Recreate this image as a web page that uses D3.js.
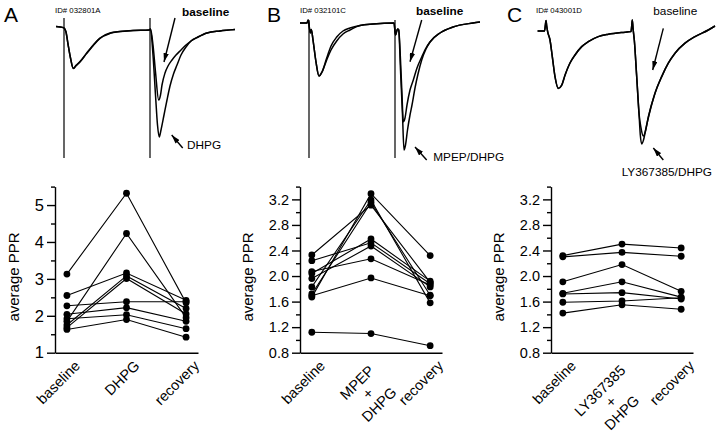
<!DOCTYPE html>
<html><head><meta charset="utf-8">
<script src="https://cdn.jsdelivr.net/npm/d3@7"></script>
<style>
body{margin:0;background:#fff}
svg{display:block}
text{font-family:"Liberation Sans",Arial,Helvetica,sans-serif;fill:#000}
</style>
</head><body>
<svg id="chart" width="720" height="433"></svg>
<script>
// ---------------- data ----------------
const panelLetters = ["A", "B", "C"];
const recordingIds = ["ID# 032801A", "ID# 032101C", "ID# 043001D"];

const categoriesA = [["baseline"], ["DHPG"], ["recovery"]];
const categoriesB = [["baseline"], ["MPEP", "+", "DHPG"], ["recovery"]];
const categoriesC = [["baseline"], ["LY367385", "+", "DHPG"], ["recovery"]];

// average PPR per cell: [baseline, drug, recovery]
const pprA = [
  [3.13, 5.32, 2.35], [2.55, 3.16, 2.42], [2.27, 2.38, 2.38],
  [2.04, 2.22, 1.85], [1.92, 2.03, 1.65], [1.63, 1.90, 1.42],
  [1.85, 4.23, 1.95], [1.75, 3.08, 2.20], [1.68, 3.01, 2.05]
];
const pprB = [
  [1.12, 1.10, 0.91], [1.69, 1.97, 1.69], [2.07, 2.27, 1.86],
  [2.33, 3.11, 1.90], [2.24, 2.52, 1.88], [2.04, 2.58, 1.92],
  [1.96, 2.47, 1.83], [1.83, 3.19, 1.58], [1.72, 3.15, 1.70],
  [1.67, 3.29, 2.32]
];
const pprC = [
  [2.32, 2.50, 2.44], [2.30, 2.37, 2.31], [1.91, 2.18, 1.76],
  [1.73, 1.91, 1.67], [1.72, 1.74, 1.64], [1.59, 1.61, 1.66],
  [1.42, 1.55, 1.48]
];

const yDomainA = [1, 5.5];
const yTicksA = [1, 2, 3, 4, 5];
const yMinorA = [1.5, 2.5, 3.5, 4.5, 5.5];
const yDomainBC = [0.8, 3.4];
const yTicksBC = [0.8, 1.2, 1.6, 2.0, 2.4, 2.8, 3.2];
const yMinorBC = [1.0, 1.4, 1.8, 2.2, 2.6, 3.0, 3.4];
const yAxisTitle = "average PPR";

// example sweeps: [time (ms), current (pA)]
const sweepA_baseline = [[-4,8],[-0.3,2],[0.3,-3],[1,-20],[2,-80],[3.25,-150],[4.65,-201],[6,-187],[8,-168],[11.35,-125],[14.65,-85],[18,-50],[23,-25],[28,-18],[34.5,-13],[42.75,-10],
  [43.25,-5],[44.5,-85],[45.75,-220],[47.35,-360],[48.25,-335],[49,-285],[50.5,-225],[52,-190],[54,-160],[56,-135],[58.5,-110],[61,-85],[63.5,-65],[67,-45],[71.5,-25],[78,-15],[85.5,-8]];
const sweepA_drug = [[-4,8],[-0.3,2],[0.3,-3],[1,-20],[2,-80],[3.25,-150],[4.65,-203],[6,-189],[8,-170],[11.35,-127],[14.65,-87],[18,-52],[23,-27],[28,-18],[34.5,-13],[42.75,-10],
  [43.25,-5],[44.5,-135],[45.75,-335],[46.75,-485],[47.65,-545],[48.5,-510],[50,-435],[51.5,-360],[53,-290],[54.75,-230],[56.5,-185],[58.5,-135],[61,-95],[63.5,-65],[67,-45],[71.5,-25],[78,-15],[85.5,-8]];
const stimA = [0, 43];

const sweepB_baseline = [[-4.5,0],[-1,0],[-0.4,15],[0.65,-50],[1.15,-32],[2,-85],[3.5,-195],[5,-265],[6.5,-245],[8.85,-175],[11,-115],[13.85,-70],[17,-40],[20.5,-25],[25.5,-12],[32,-5],[42.5,0],
  [43.25,-60],[44.25,-30],[44.85,-35],[45.75,-185],[46.5,-360],[47.15,-494],[48,-475],[49,-410],[50.5,-335],[52.15,-285],[54,-225],[56.35,-170],[58.5,-125],[60.5,-95],[65.5,-50],[72,-20],[82,0],[85.5,5]];
const sweepB_drug = [[-4.5,0],[-1,0],[-0.4,15],[0.65,-50],[1.15,-32],[2,-85],[3.5,-195],[5,-265],[6.5,-245],[8.85,-185],[11,-135],[13.85,-90],[17,-55],[20.5,-35],[25.5,-12],[32,-5],[42.5,0],
  [43.25,-60],[44.25,-30],[44.85,-35],[45.75,-235],[46.75,-460],[47.5,-635],[48.25,-610],[49.25,-535],[50.5,-460],[51.5,-410],[53,-325],[54.5,-255],[56.35,-185],[58.5,-130],[60.5,-95],[65.5,-50],[72,-20],[82,0],[85.5,5]];
const stimB = [0, 43];

const sweepC_baseline = [[-4.2,0],[-0.75,0],[-0.25,35],[0,52],[0.35,25],[0.85,-4],[2,-45],[3.15,-128],[4.5,-228],[6.15,-286],[7.85,-270],[9.5,-220],[12,-160],[14.5,-120],[17.85,-78],[21.15,-53],[26.15,-28],[31.15,-16],[37.85,-7],[42.5,-3],
  [42.9,30],[43.15,55],[43.5,15],[44.15,-45],[45.35,-228],[46.5,-411],[47.5,-485],[48.65,-525],[49.75,-500],[51.15,-430],[54.5,-311],[57.85,-228],[61.15,-161],[64.5,-111],[69.5,-61],[74.5,-28],[81.15,5],[84.5,25]];
const sweepC_drug = [[-4.2,0],[-0.75,0],[-0.25,35],[0,52],[0.35,25],[0.85,-4],[2,-45],[3.15,-128],[4.5,-228],[6.15,-288],[7.85,-272],[9.5,-222],[12,-160],[14.5,-120],[17.85,-78],[21.15,-53],[26.15,-28],[31.15,-16],[37.85,-7],[42.5,-3],
  [42.9,30],[43.15,55],[43.5,15],[44.15,-45],[45.35,-228],[46.5,-411],[47.15,-520],[47.85,-565],[48.75,-545],[50,-485],[51.5,-420],[54.5,-311],[57.85,-228],[61.15,-161],[64.5,-111],[69.5,-61],[74.5,-28],[81.15,5],[84.5,25]];
const stimC = [];

// ---------------- layout ----------------
const panels = [
  {letter: panelLetters[0], id: recordingIds[0], cats: categoriesA, ppr: pprA, dom: yDomainA, ticks: yTicksA, minor: yMinorA,
   sweeps: [sweepA_baseline, sweepA_drug], stim: stimA, stimRange: [50, -650],
   axisX: 55, axisEnd: 198, tickFont: 16.5, tx0: 64, ty0: 28, letterX: 4, idX: 55,
   notes: [
     {text: "baseline", bold: true, at: [59, 62], arrow: [[55.5, 50], [50, -170]]},
     {text: "DHPG", bold: false, at: [61.5, -605], arrow: [[59.35, -600], [53.85, -535]]}
   ]},
  {letter: panelLetters[1], id: recordingIds[1], cats: categoriesB, ppr: pprB, dom: yDomainBC, ticks: yTicksBC, minor: yMinorBC,
   sweeps: [sweepB_baseline, sweepB_drug], stim: stimB, stimRange: [15, -675],
   axisX: 300, axisEnd: 442, tickFont: 14.5, tx0: 309, ty0: 23, letterX: 267, idX: 300,
   notes: [
     {text: "baseline", bold: true, at: [53.5, 42], arrow: [[56.35, 15], [50.5, -194]]},
     {text: "MPEP/DHPG", bold: false, at: [62.15, -690], arrow: [[58.85, -685], [53, -620]]}
   ]},
  {letter: panelLetters[2], id: recordingIds[2], cats: categoriesC, ppr: pprC, dom: yDomainBC, ticks: yTicksBC, minor: yMinorBC,
   sweeps: [sweepC_baseline, sweepC_drug], stim: stimC, stimRange: [0, 0],
   axisX: 551, axisEnd: 693, tickFont: 14.5, tx0: 546, ty0: 31, letterX: 507, idX: 536,
   notes: [
     {text: "baseline", bold: false, at: [53.65, 80], arrow: [[58.65, 13], [53.35, -195]]},
     {text: "LY367385/DHPG", bold: false, at: [37.85, -725], arrow: [[58.65, -645], [53.65, -585]]}
   ]}
];
const plotBottom = 352.7, plotTop = 186.6;

const svg = d3.select("#chart");
svg.append("rect").attr("width", 720).attr("height", 433).attr("fill", "#fff");
svg.append("defs").append("marker")
  .attr("id", "ah").attr("viewBox", "0 0 10 6").attr("refX", 10).attr("refY", 3)
  .attr("markerWidth", 9).attr("markerHeight", 5.4).attr("markerUnits", "userSpaceOnUse")
  .attr("orient", "auto")
  .append("path").attr("d", "M0,0L10,3L0,6Z").attr("fill", "#000");

panels.forEach(p => {
  const g = svg.append("g");

  // letters and ids
  g.append("text").attr("x", p.letterX).attr("y", 22).attr("font-size", 21).text(p.letter);
  g.append("text").attr("x", p.idX).attr("y", 12.5).attr("font-size", 7.8).text(p.id);

  // ---- sweeps
  const tx = d3.scaleLinear().domain([0, 50]).range([p.tx0, p.tx0 + 100]);
  const ty = d3.scaleLinear().domain([0, -500]).range([p.ty0, p.ty0 + 100]);
  const trace = d3.line().x(d => tx(d[0])).y(d => ty(d[1])).curve(d3.curveMonotoneX);
  p.stim.forEach(t => {
    g.append("line").attr("x1", tx(t)).attr("x2", tx(t))
      .attr("y1", ty(p.stimRange[0])).attr("y2", ty(p.stimRange[1]))
      .attr("stroke", "#000").attr("stroke-width", 1.2);
  });
  p.sweeps.forEach(s => {
    g.append("path").attr("d", trace(s)).attr("fill", "none")
      .attr("stroke", "#000").attr("stroke-width", 1.5).attr("stroke-linejoin", "round");
  });
  p.notes.forEach(n => {
    g.append("text").attr("x", tx(n.at[0])).attr("y", ty(n.at[1]))
      .attr("font-size", 11.8).attr("font-weight", n.bold ? "bold" : "normal").text(n.text);
    g.append("line")
      .attr("x1", tx(n.arrow[0][0])).attr("y1", ty(n.arrow[0][1]))
      .attr("x2", tx(n.arrow[1][0])).attr("y2", ty(n.arrow[1][1]))
      .attr("stroke", "#000").attr("stroke-width", 1.4).attr("marker-end", "url(#ah)");
  });

  // ---- PPR plot
  const x = d3.scalePoint().domain(d3.range(p.cats.length)).range([p.axisX, p.axisEnd]).padding(0.2);
  const y = d3.scaleLinear().domain(p.dom).range([plotBottom, plotTop]);

  const yAxis = g.append("g").attr("transform", `translate(${p.axisX},0)`)
    .call(d3.axisLeft(y).tickValues(p.ticks).tickSize(8).tickPadding(3).tickSizeOuter(0)
      .tickFormat(p.dom[0] < 1 ? d3.format(".1f") : d3.format("d")));
  yAxis.selectAll("text").attr("font-size", p.tickFont).attr("font-family", null);
  yAxis.selectAll("path,line").attr("stroke", "#000").attr("stroke-width", 1.4);
  const yMinor = g.append("g").attr("transform", `translate(${p.axisX},0)`)
    .call(d3.axisLeft(y).tickValues(p.minor).tickSize(4).tickFormat("").tickSizeOuter(0));
  yMinor.select(".domain").remove();
  yMinor.selectAll("line").attr("stroke", "#000").attr("stroke-width", 1.4);

  const xAxis = g.append("g").attr("transform", `translate(0,${plotBottom})`)
    .call(d3.axisBottom(x).tickValues([]).tickSizeOuter(0));
  xAxis.selectAll("path").attr("stroke", "#000").attr("stroke-width", 1.4);

  // y title
  let maxW = 0;
  yAxis.selectAll(".tick text").each(function () { maxW = Math.max(maxW, this.getComputedTextLength()); });
  const titleX = p.axisX - 11 - maxW - 16;
  g.append("text").attr("transform", `translate(${titleX},277) rotate(-90)`)
    .attr("text-anchor", "middle").attr("font-size", 15).text(yAxisTitle);

  // category labels
  p.cats.forEach((lines, j) => {
    const cg = g.append("g").attr("transform", `translate(${x(j) + 14},${plotBottom + 14}) rotate(-45)`);
    if (lines.length === 1) {
      cg.append("text").attr("text-anchor", "end").attr("font-size", 14.5).text(lines[0]);
    } else {
      const ts = lines.map((l, k) => cg.append("text").attr("text-anchor", "middle")
        .attr("font-size", 14.5).attr("y", -3.5 + k * 15.5).text(l));
      let w = 0;
      ts.forEach(t => { w = Math.max(w, t.node().getComputedTextLength()); });
      ts.forEach(t => t.attr("x", -10 - w / 2));
    }
  });

  // lines and dots
  const link = d3.line().x((d, k) => x(k)).y(d => y(d));
  g.append("g").selectAll("path").data(p.ppr).join("path")
    .attr("d", link).attr("fill", "none").attr("stroke", "#000").attr("stroke-width", 1.1);
  const pts = p.ppr.flatMap(r => r.map((v, k) => ({k, v})));
  g.append("g").selectAll("circle").data(pts).join("circle")
    .attr("cx", d => x(d.k)).attr("cy", d => y(d.v)).attr("r", 3.4).attr("fill", "#000");
});
</script>
</body></html>
